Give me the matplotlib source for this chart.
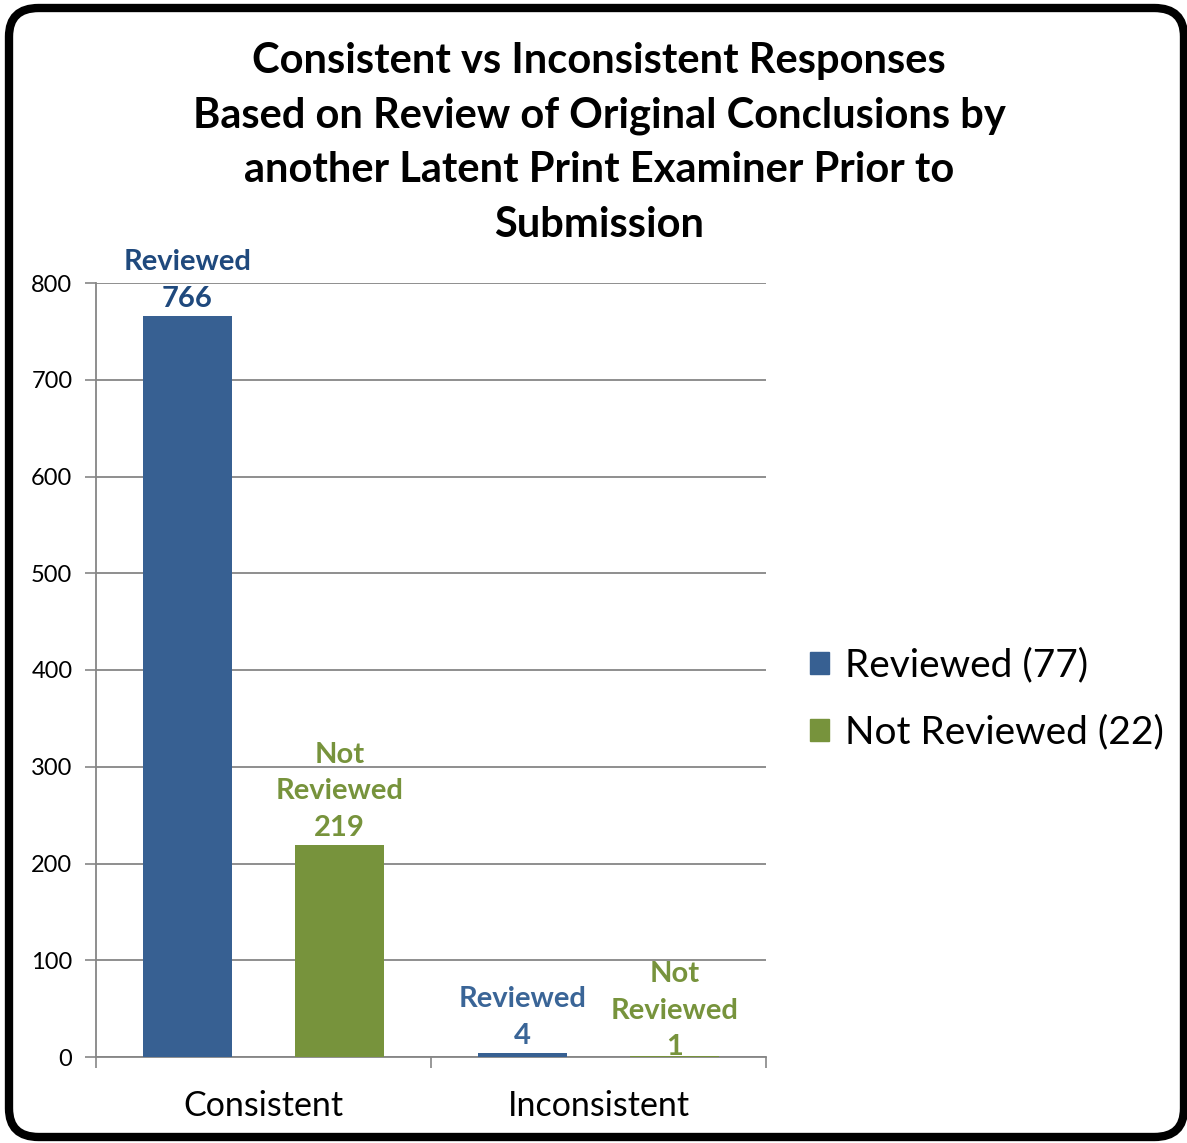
import matplotlib.pyplot as plt
import numpy as np
from matplotlib.patches import FancyBboxPatch, Patch

categories = ['Consistent', 'Inconsistent']
series_names = ['Reviewed (77)', 'Not Reviewed (22)']
reviewed = [766, 4]
not_reviewed = [219, 1]
label_reviewed = ['Reviewed\n766', 'Reviewed\n4']
label_not_reviewed = ['Not\nReviewed\n219', 'Not\nReviewed\n1']
yticks = [0, 100, 200, 300, 400, 500, 600, 700, 800]

title = ('Consistent vs Inconsistent Responses\n'
         'Based on Review of Original Conclusions by\n'
         'another Latent Print Examiner Prior to\n'
         'Submission')

blue = '#376092'
green = '#77933C'
grid_col = '#868686'

plt.rcParams['font.family'] = ['Lato', 'DejaVu Sans']

fig = plt.figure(figsize=(11.87, 11.43), dpi=100)

# rounded black frame
frame = FancyBboxPatch((9 / 1187, 6 / 1143), (1184 - 9) / 1187, (1135 - 6) / 1143,
                       boxstyle='round,pad=0,rounding_size=0.025',
                       transform=fig.transFigure, facecolor='none',
                       edgecolor='black', linewidth=6, zorder=5)
fig.patches.append(frame)

ax = fig.add_axes([96 / 1187, 86 / 1143, 670 / 1187, 774 / 1143])
ax.set_facecolor('none')

x = np.arange(len(categories)) + 0.5
width = 0.266
offset = 0.227
b1 = ax.bar(x - offset, reviewed, width, color=blue, zorder=3)
b2 = ax.bar(x + offset, not_reviewed, width, color=green, zorder=3)

rev_label_colors = ['#1F497D', '#3A6597']
# the small "not reviewed" label sits a bit lower in the original
nr_offsets = [3, -3]
for i in range(len(categories)):
    ax.annotate(label_reviewed[i], (x[i] - offset, reviewed[i]), xytext=(0, 3),
                textcoords='offset points', ha='center', va='bottom',
                fontsize=21, fontweight='bold', color=rev_label_colors[i],
                linespacing=1.5, zorder=4, annotation_clip=False)
    ax.annotate(label_not_reviewed[i], (x[i] + offset, not_reviewed[i]), xytext=(0, nr_offsets[i]),
                textcoords='offset points', ha='center', va='bottom',
                fontsize=21, fontweight='bold', color=green,
                linespacing=1.5, zorder=4, annotation_clip=False)

ax.set_xlim(0, 2)
ax.set_ylim(0, 800)
ax.set_yticks(yticks)
ax.set_yticklabels([str(t) for t in yticks], fontsize=17)
ax.set_xticks([0, 1, 2])
ax.set_xticklabels([])
ax.set_xticks(x, minor=True)
ax.set_xticklabels(categories, minor=True, fontsize=24.5)
ax.tick_params(axis='x', which='major', length=8, width=1.2, color=grid_col, direction='out')
ax.tick_params(axis='x', which='minor', length=0, pad=24)
ax.tick_params(axis='y', length=8, width=1.2, color=grid_col, pad=9)
ax.yaxis.grid(True, color=grid_col, linewidth=1.3, zorder=1)
for s in ['top', 'right']:
    ax.spines[s].set_visible(False)
ax.spines['left'].set_color(grid_col)
ax.spines['left'].set_linewidth(1.3)
ax.spines['bottom'].set_color(grid_col)
ax.spines['bottom'].set_linewidth(1.3)

fig.text(599 / 1187, 1 - 42 / 1143, title, ha='center', va='top',
         fontsize=30, fontweight='bold', linespacing=1.53)

handles = [Patch(color=blue), Patch(color=green)]
fig.legend(handles, series_names, loc='center left',
           bbox_to_anchor=(775 / 1187, 1 - 699 / 1143), frameon=False,
           fontsize=28, handlelength=0.5, handleheight=0.5, handletextpad=0.4,
           labelspacing=0.8)

fig.savefig('out.png', dpi=100)
